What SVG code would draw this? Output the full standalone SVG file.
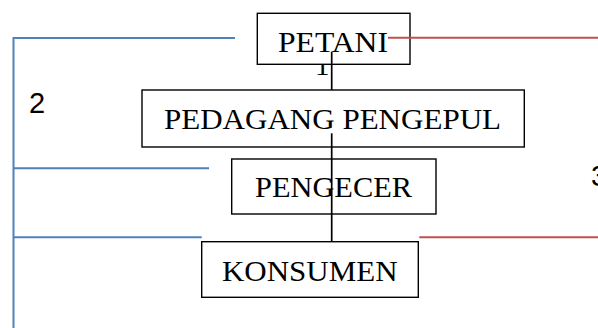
<svg xmlns="http://www.w3.org/2000/svg" width="598" height="328" viewBox="0 0 598 328">
  <style>
    .box { fill: #ffffff; stroke: #000000; stroke-width: 1.4; }
    .lbl { font-family: "Liberation Serif", "Times New Roman", serif; font-size: 29px; fill: #000000; }
    .num { font-family: "Liberation Sans", Arial, sans-serif; font-size: 29px; fill: #000000; }
    .flow { stroke: #000000; stroke-width: 1.7; fill: none; }
    .blue { stroke: #4f81bd; stroke-width: 2; fill: none; }
    .red { stroke: #c0504d; stroke-width: 2; fill: none; }
  </style>
  <rect width="598" height="328" fill="#ffffff"/>

  <!-- channel numbers -->
  <g id="labels">
    <text class="lbl" x="315" y="75">1</text>
    <text class="num" x="29" y="113">2</text>
    <text class="num" x="591" y="186">3</text>
  </g>

  <g id="petani">
    <rect class="box" x="257.3" y="13.3" width="152.7" height="51"/>
    <text class="lbl" x="278" y="52.3" textLength="110" lengthAdjust="spacingAndGlyphs">PETANI</text>
  </g>
  <g id="pedagang-pengepul">
    <rect class="box" x="142" y="90" width="382.3" height="57"/>
    <text class="lbl" x="164" y="129" textLength="337" lengthAdjust="spacingAndGlyphs">PEDAGANG PENGEPUL</text>
  </g>
  <g id="pengecer">
    <rect class="box" x="231.7" y="159" width="204.3" height="55"/>
    <text class="lbl" x="255" y="197" textLength="157" lengthAdjust="spacingAndGlyphs">PENGECER</text>
  </g>
  <g id="konsumen">
    <rect class="box" x="201.7" y="241.7" width="216.6" height="55.6"/>
    <text class="lbl" x="222" y="280.7" textLength="175.5" lengthAdjust="spacingAndGlyphs">KONSUMEN</text>
  </g>

  <g id="connectors">
    <line class="flow" x1="331.7" y1="51.7" x2="331.7" y2="90"/>
    <line class="flow" x1="331.7" y1="133.3" x2="331.7" y2="241"/>
    <!-- channel 2 -->
    <polyline class="blue" points="235,38 13.5,38 13.5,328"/>
    <line class="blue" x1="13.5" y1="168.3" x2="209" y2="168.3"/>
    <line class="blue" x1="13.5" y1="237.3" x2="201.7" y2="237.3"/>
    <!-- channel 3 -->
    <line class="red" x1="388" y1="37.7" x2="598" y2="37.7"/>
    <line class="red" x1="419.3" y1="237.3" x2="598" y2="237.3"/>
  </g>
</svg>
